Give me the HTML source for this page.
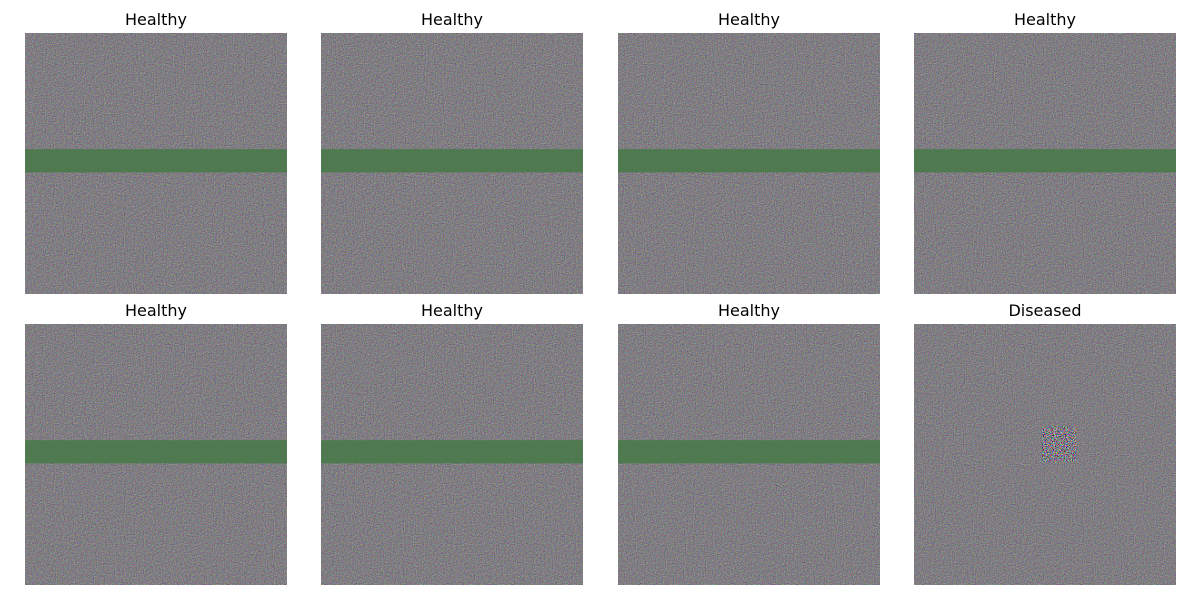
<!DOCTYPE html>
<html><head><meta charset="utf-8"><style>
body{margin:0;background:#fff;width:1200px;height:600px;overflow:hidden;font-family:"DejaVu Sans","Liberation Sans",sans-serif}
</style></head><body>
<svg id="fig" width="1200" height="600" xmlns="http://www.w3.org/2000/svg">
<defs>
<filter id="noise" x="0" y="0" width="100%" height="100%" color-interpolation-filters="sRGB">
<feTurbulence type="fractalNoise" baseFrequency="0.9" numOctaves="2" seed="3" result="t"/>
<feColorMatrix in="t" type="matrix" values="0.6 0 0 0 0.2  0 0.6 0 0 0.19  0 0 0.6 0 0.21  0 0 0 0 1"/>
</filter>
<filter id="noise2" x="0" y="0" width="100%" height="100%" color-interpolation-filters="sRGB">
<feTurbulence type="fractalNoise" baseFrequency="0.9" numOctaves="2" seed="7" result="t"/>
<feColorMatrix in="t" type="matrix" values="2.2 0 0 0 -0.6  0 2.2 0 0 -0.62  0 0 2.2 0 -0.58  0 0 0 0 1"/>
</filter>
</defs>
</svg>
<script>
const labels=["Healthy","Healthy","Healthy","Healthy","Healthy","Healthy","Healthy","Diseased"];
const hasBand=[1,1,1,1,1,1,1,0];
const bandRange=[0.445,0.534];
const lesion=[0.489,0.618,0.393,0.527];
const NS="http://www.w3.org/2000/svg";
const svg=document.getElementById('fig');
const colX=[25,321,618,914], rowY=[33,324], W=262, H=261;
labels.forEach((lab,i)=>{
  const x=colX[i%4], y=rowY[Math.floor(i/4)];
  const g=document.createElementNS(NS,'g');
  
  
  const r=document.createElementNS(NS,'rect');
  
  
  r.setAttribute('x',x);r.setAttribute('y',y);r.setAttribute('width',W);r.setAttribute('height',H);
  r.setAttribute('fill','#7f7e80');r.setAttribute('filter','url(#noise)');
  g.appendChild(r);
  if(hasBand[i]){
    const b=document.createElementNS(NS,'rect');
    
    
    b.setAttribute('x',x);b.setAttribute('y',y+bandRange[0]*H);
    b.setAttribute('width',W);b.setAttribute('height',(bandRange[1]-bandRange[0])*H);
    b.setAttribute('fill','#4f7a50');
    g.appendChild(b);
  } else {
    const s=document.createElementNS(NS,'rect');
    
    
    s.setAttribute('x',x+lesion[0]*W);s.setAttribute('y',y+lesion[2]*H);
    s.setAttribute('width',(lesion[1]-lesion[0])*W);s.setAttribute('height',(lesion[3]-lesion[2])*H);
    s.setAttribute('fill','#7f7e80');s.setAttribute('filter','url(#noise2)');
    g.appendChild(s);
  }
  const t=document.createElementNS(NS,'text');
  
  
  t.setAttribute('x',x+W/2);t.setAttribute('y',y-8);
  t.setAttribute('text-anchor','middle');t.setAttribute('font-size','16');
  t.setAttribute('font-family','"DejaVu Sans","Liberation Sans",sans-serif');
  t.textContent=lab;
  g.appendChild(t);
  svg.appendChild(g);
});
</script>
</body></html>
